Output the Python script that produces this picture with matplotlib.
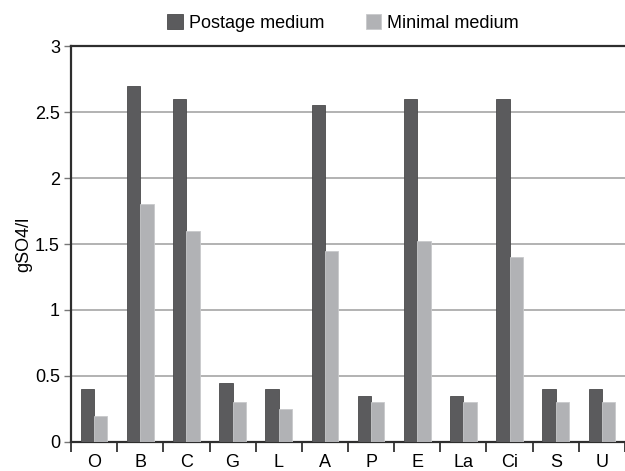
import matplotlib
matplotlib.use("Agg")
import matplotlib.pyplot as plt
import numpy as np

categories = ["O", "B", "C", "G", "L", "A", "P", "E", "La", "Ci", "S", "U"]
postage = [0.4, 2.7, 2.6, 0.45, 0.4, 2.55, 0.35, 2.6, 0.35, 2.6, 0.4, 0.4]
minimal = [0.2, 1.8, 1.6, 0.3, 0.25, 1.45, 0.3, 1.52, 0.3, 1.4, 0.3, 0.3]
yticks = [0, 0.5, 1, 1.5, 2, 2.5, 3]
ytick_labels = ["0", "0.5", "1", "1.5", "2", "2.5", "3"]

DARK = "#5b5b5d"
LIGHT = "#b1b2b5"
FONT = 13

plt.rcParams["font.family"] = ["Liberation Sans", "DejaVu Sans"]

fig = plt.figure(figsize=(6.25, 4.71), dpi=100)
ax = fig.add_axes([0.1136, 0.0616, 0.8864, 0.8407])

x = np.arange(len(categories))
w = 0.29
ax.bar(x - w / 2, postage, w, color=DARK, edgecolor="#4a4a4c", linewidth=0.6,
       label="Postage medium", zorder=3)
ax.bar(x + w / 2, minimal, w, color=LIGHT, edgecolor="#c8c9cb", linewidth=0.6,
       label="Minimal medium", zorder=3)

ax.set_xlim(-0.5, len(categories) - 0.5)
ax.set_ylim(0, 3)
ax.set_yticks(yticks)
ax.set_yticklabels(ytick_labels, fontsize=FONT)
ax.yaxis.grid(True, color="#a5a5a5", linewidth=1.2, zorder=0)
ax.set_xticks(x)
ax.set_xticklabels(categories, fontsize=FONT)
ax.set_xticks(np.arange(len(categories) + 1) - 0.5, minor=True)
ax.tick_params(axis="x", which="major", length=0, pad=9)
ax.tick_params(axis="x", which="minor", length=7, width=1.3, color="#333333")
ax.tick_params(axis="y", length=5, width=1.0, color="#777777", pad=3)

for side in ["left", "bottom", "top"]:
    ax.spines[side].set_color("#2e2e2e")
    ax.spines[side].set_linewidth(1.6)
ax.spines["right"].set_visible(False)

ax.set_ylabel("gSO4/l", fontsize=FONT, labelpad=2)

fig.legend(loc="upper center", bbox_to_anchor=(0.549, 1.004), ncol=2,
           frameon=False, fontsize=FONT, handlelength=0.85, handleheight=0.85,
           handletextpad=0.35, columnspacing=2.3)

fig.savefig("out.png", dpi=100)
